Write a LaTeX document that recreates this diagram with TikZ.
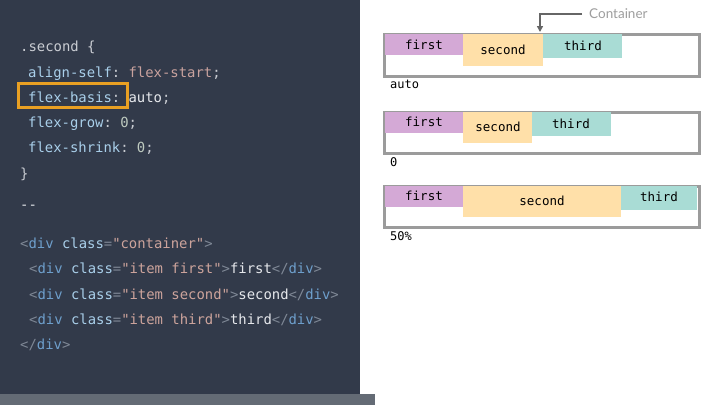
\documentclass[tikz,border=0pt]{standalone}
\usepackage{fontspec}
\setmonofont{DejaVu Sans Mono}
\setsansfont{Lato}
\usetikzlibrary{arrows.meta}
\definecolor{panel}{HTML}{323A4A}
\definecolor{barc}{HTML}{646B75}
\definecolor{kprop}{HTML}{A9CFEA}
\definecolor{kval}{HTML}{C9A29E}
\definecolor{kplain}{HTML}{C9CCD2}
\definecolor{kwhite}{HTML}{E6E8EC}
\definecolor{knum}{HTML}{BFCBC0}
\definecolor{kpunct}{HTML}{7F8896}
\definecolor{ktag}{HTML}{6E9FCC}
\definecolor{kstr}{HTML}{CDA49C}
\definecolor{hl}{HTML}{E9A023}
\definecolor{cfirst}{HTML}{D4A9D6}
\definecolor{csecond}{HTML}{FFE0A9}
\definecolor{cthird}{HTML}{A9DCD5}
\definecolor{cborder}{HTML}{9B9B9B}
\newcommand\kP[1]{\textcolor{kprop}{#1}}
\newcommand\kV[1]{\textcolor{kval}{#1}}
\newcommand\kW[1]{\textcolor{kwhite}{#1}}
\newcommand\kN[1]{\textcolor{knum}{#1}}
\newcommand\kU[1]{\textcolor{kpunct}{#1}}
\newcommand\kT[1]{\textcolor{ktag}{#1}}
\newcommand\kS[1]{\textcolor{kstr}{#1}}
\tikzset{
  codeline/.style={anchor=base west, inner sep=0pt, font=\ttfamily\fontsize{13.9}{15}\selectfont, text=kplain},
  item/.style={anchor=north west, inner sep=0pt},
  itemtext/.style={anchor=center, inner sep=0pt, font=\ttfamily\fontsize{12.5}{14}\selectfont, text=black},
  contbox/.style={draw=cborder, line width=3pt, fill=white},
  boxlabel/.style={anchor=base west, inner sep=0pt, font=\ttfamily\fontsize{12}{14}\selectfont, text=black},
}
\begin{document}
\begin{tikzpicture}[x=1pt,y=-1pt]
\useasboundingbox (0,0) rectangle (720,405);
\fill[white] (0,0) rectangle (720,405);
\fill[panel] (0,0) rectangle (360,405);
\fill[barc] (0,394) rectangle (375,405);

% code
\node[codeline] (l1) at (20,51) {.second \{};
\node[codeline] (l2) at (28,77) {\kP{align-self}: \kV{flex-start};};
\node[codeline] (l3) at (28,102) {\kP{flex-basis}: \kW{auto};};
\node[codeline] (l4) at (28,127) {\kP{flex-grow}: \kN{0};};
\node[codeline] (l5) at (28,152) {\kP{flex-shrink}: \kN{0};};
\node[codeline] (l6) at (20,178) {\}};
\node[codeline] (l7) at (20,209) {\kW{{-}{-}}};
\node[codeline] (l8) at (20,248) {\kU{<}\kT{div} \kP{class}\kU{=}\kS{"container"}\kU{>}};
\node[codeline] (l9) at (29,273) {\kU{<}\kT{div} \kP{class}\kU{=}\kS{"item first"}\kU{>}\kW{first}\kU{</}\kT{div}\kU{>}};
\node[codeline] (l10) at (29,299) {\kU{<}\kT{div} \kP{class}\kU{=}\kS{"item second"}\kU{>}\kW{second}\kU{</}\kT{div}\kU{>}};
\node[codeline] (l11) at (29,324) {\kU{<}\kT{div} \kP{class}\kU{=}\kS{"item third"}\kU{>}\kW{third}\kU{</}\kT{div}\kU{>}};
\node[codeline] (l12) at (20,349) {\kU{</}\kT{div}\kU{>}};

% highlight
\node[draw=hl, line width=3pt, anchor=north west, inner sep=0pt, minimum width=109pt, minimum height=24pt] (hlbox) at (17,82) {};

% container 1 : auto
\node[contbox, anchor=north west, inner sep=0pt, minimum width=315pt, minimum height=42pt] (c1) at (383,33) {};
\node[item, fill=cfirst, minimum width=78pt, minimum height=21pt] (f1) at (385,34) {};
\node[itemtext] (f1t) at (424,45) {first};
\node[item, fill=csecond, minimum width=80pt, minimum height=32pt] (s1) at (463,34) {};
\node[itemtext] (s1t) at (503,50) {second};
\node[item, fill=cthird, minimum width=79pt, minimum height=24pt] (t1) at (543,34) {};
\node[itemtext] (t1t) at (583,46) {third};
\node[boxlabel] (lab1) at (390,88) {auto};

% container 2 : 0
\node[contbox, anchor=north west, inner sep=0pt, minimum width=315pt, minimum height=41pt] (c2) at (383,111) {};
\node[item, fill=cfirst, minimum width=78pt, minimum height=21pt] (f2) at (385,112) {};
\node[itemtext] (f2t) at (424,122) {first};
\node[item, fill=csecond, minimum width=69pt, minimum height=31pt] (s2) at (463,112) {};
\node[itemtext] (s2t) at (498,127) {second};
\node[item, fill=cthird, minimum width=79pt, minimum height=24pt] (t2) at (532,112) {};
\node[itemtext] (t2t) at (571,124) {third};
\node[boxlabel] (lab2) at (390,166) {0};

% container 3 : 50%
\node[contbox, anchor=north west, inner sep=0pt, minimum width=315pt, minimum height=41pt] (c3) at (383,185) {};
\node[item, fill=cfirst, minimum width=78pt, minimum height=21pt] (f3) at (385,186) {};
\node[itemtext] (f3t) at (424,196) {first};
\node[item, fill=csecond, minimum width=158pt, minimum height=31pt] (s3) at (463,186) {};
\node[itemtext] (s3t) at (542,201) {second};
\node[item, fill=cthird, minimum width=76pt, minimum height=24pt] (t3) at (621,186) {};
\node[itemtext] (t3t) at (659,197) {third};
\node[boxlabel] (lab3) at (390,240) {50\%};

% Container label
\node[anchor=west, inner sep=0pt, font=\sffamily\fontsize{13.5}{15}\selectfont, text=black!38] (clab) at (589,14) {Container};
\coordinate (ctarget) at (540,32);
\draw[black!60, line width=1.6pt, -{Triangle[length=6pt,width=6pt]}] (clab.west) ++(-7,0) -- (540,14) -- (ctarget);
\end{tikzpicture}
\end{document}
